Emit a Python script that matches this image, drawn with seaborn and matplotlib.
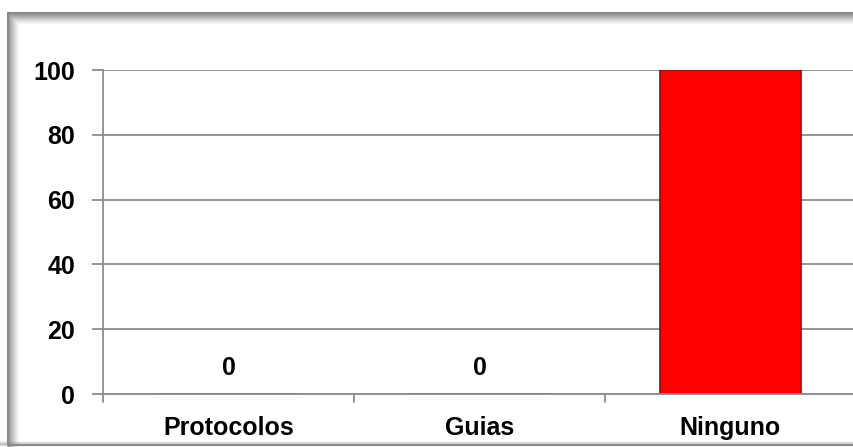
import matplotlib
matplotlib.use("Agg")
import matplotlib.pyplot as plt
import seaborn as sns
from matplotlib.patches import Rectangle

categories = ["Protocolos", "Guias", "Ninguno"]
values = [0, 0, 100]
y_ticks = [0, 20, 40, 60, 80, 100]

sns.set_theme(style="white")
plt.rcParams["font.family"] = ["Liberation Sans", "DejaVu Sans"]

W, H = 854, 447
fig = plt.figure(figsize=(W / 100, H / 100), dpi=100)
fig.patch.set_facecolor("white")

# outer chart frame with a soft inner shadow along the top and left edges
fx0, fy0 = 8, 13
for i in range(12):
    a = 0.6 * (1 - i / 12) ** 1.5
    fig.add_artist(Rectangle(((fx0 + i) / W, 0.0), 0.0, (H - fy0 - i) / H,
                             transform=fig.transFigure, lw=1.2,
                             edgecolor=(0.45, 0.45, 0.45, a), facecolor="none"))
    fig.add_artist(Rectangle(((fx0 + i) / W, (H - fy0 - i) / H), 1.0, 0.0,
                             transform=fig.transFigure, lw=1.2,
                             edgecolor=(0.45, 0.45, 0.45, a), facecolor="none"))
for i in range(4):
    a = 0.4 * (1 - i / 4)
    fig.add_artist(Rectangle((0.0, (H - 445 + i) / H), 1.0, 0.0,
                             transform=fig.transFigure, lw=1.2,
                             edgecolor=(0.5, 0.5, 0.5, a), facecolor="none"))
fig.add_artist(Rectangle((fx0 / W, (H - 445) / H), 1.0, (445 - fy0) / H,
                         transform=fig.transFigure, lw=1.5,
                         edgecolor="#8a8a8a", facecolor="none"))

left, right = 103 / W, 856 / W
bottom, top = (H - 394) / H, (H - 70) / H
ax = fig.add_axes([left, bottom, right - left, top - bottom])
ax.set_facecolor("none")

sns.barplot(x=categories, y=values, color="#ff0000", width=0.56,
            edgecolor="#a80000", linewidth=1.2, ax=ax, saturation=1)

ax.set_ylim(0, 100)
ax.set_xlim(-0.5, 2.5)
ax.set_yticks(y_ticks)
ax.yaxis.grid(True, color="#8c8c8c", linewidth=1.3)
ax.set_axisbelow(True)

for s in ["top", "right"]:
    ax.spines[s].set_visible(False)
ax.spines["left"].set_color("#8c8c8c")
ax.spines["left"].set_linewidth(1.3)
ax.spines["bottom"].set_color("#8c8c8c")
ax.spines["bottom"].set_linewidth(1.3)

ax.tick_params(axis="y", length=8, width=1.3, color="#8c8c8c", pad=12,
               labelsize=18, left=True)
ax.set_yticklabels([str(t) for t in y_ticks], fontweight="bold", color="black")

# category ticks sit on the band boundaries
ax.tick_params(axis="x", length=0, pad=16, labelsize=18)
ax.set_xticks(range(len(categories)))
ax.set_xticklabels(categories, fontweight="bold", color="black")
for xb in [-0.5, 0.5, 1.5]:
    ax.plot([xb, xb], [0, -2.5], color="#8c8c8c", lw=1.3, clip_on=False)

ax.set_xlabel("")
ax.set_ylabel("")

for i, v in enumerate(values):
    if v < 100:
        ax.annotate(f"{v}", (i, v), xytext=(0, 19), textcoords="offset points",
                    ha="center", va="center", fontsize=18, fontweight="bold",
                    color="black")

fig.savefig("out.png", dpi=100, facecolor="white")
